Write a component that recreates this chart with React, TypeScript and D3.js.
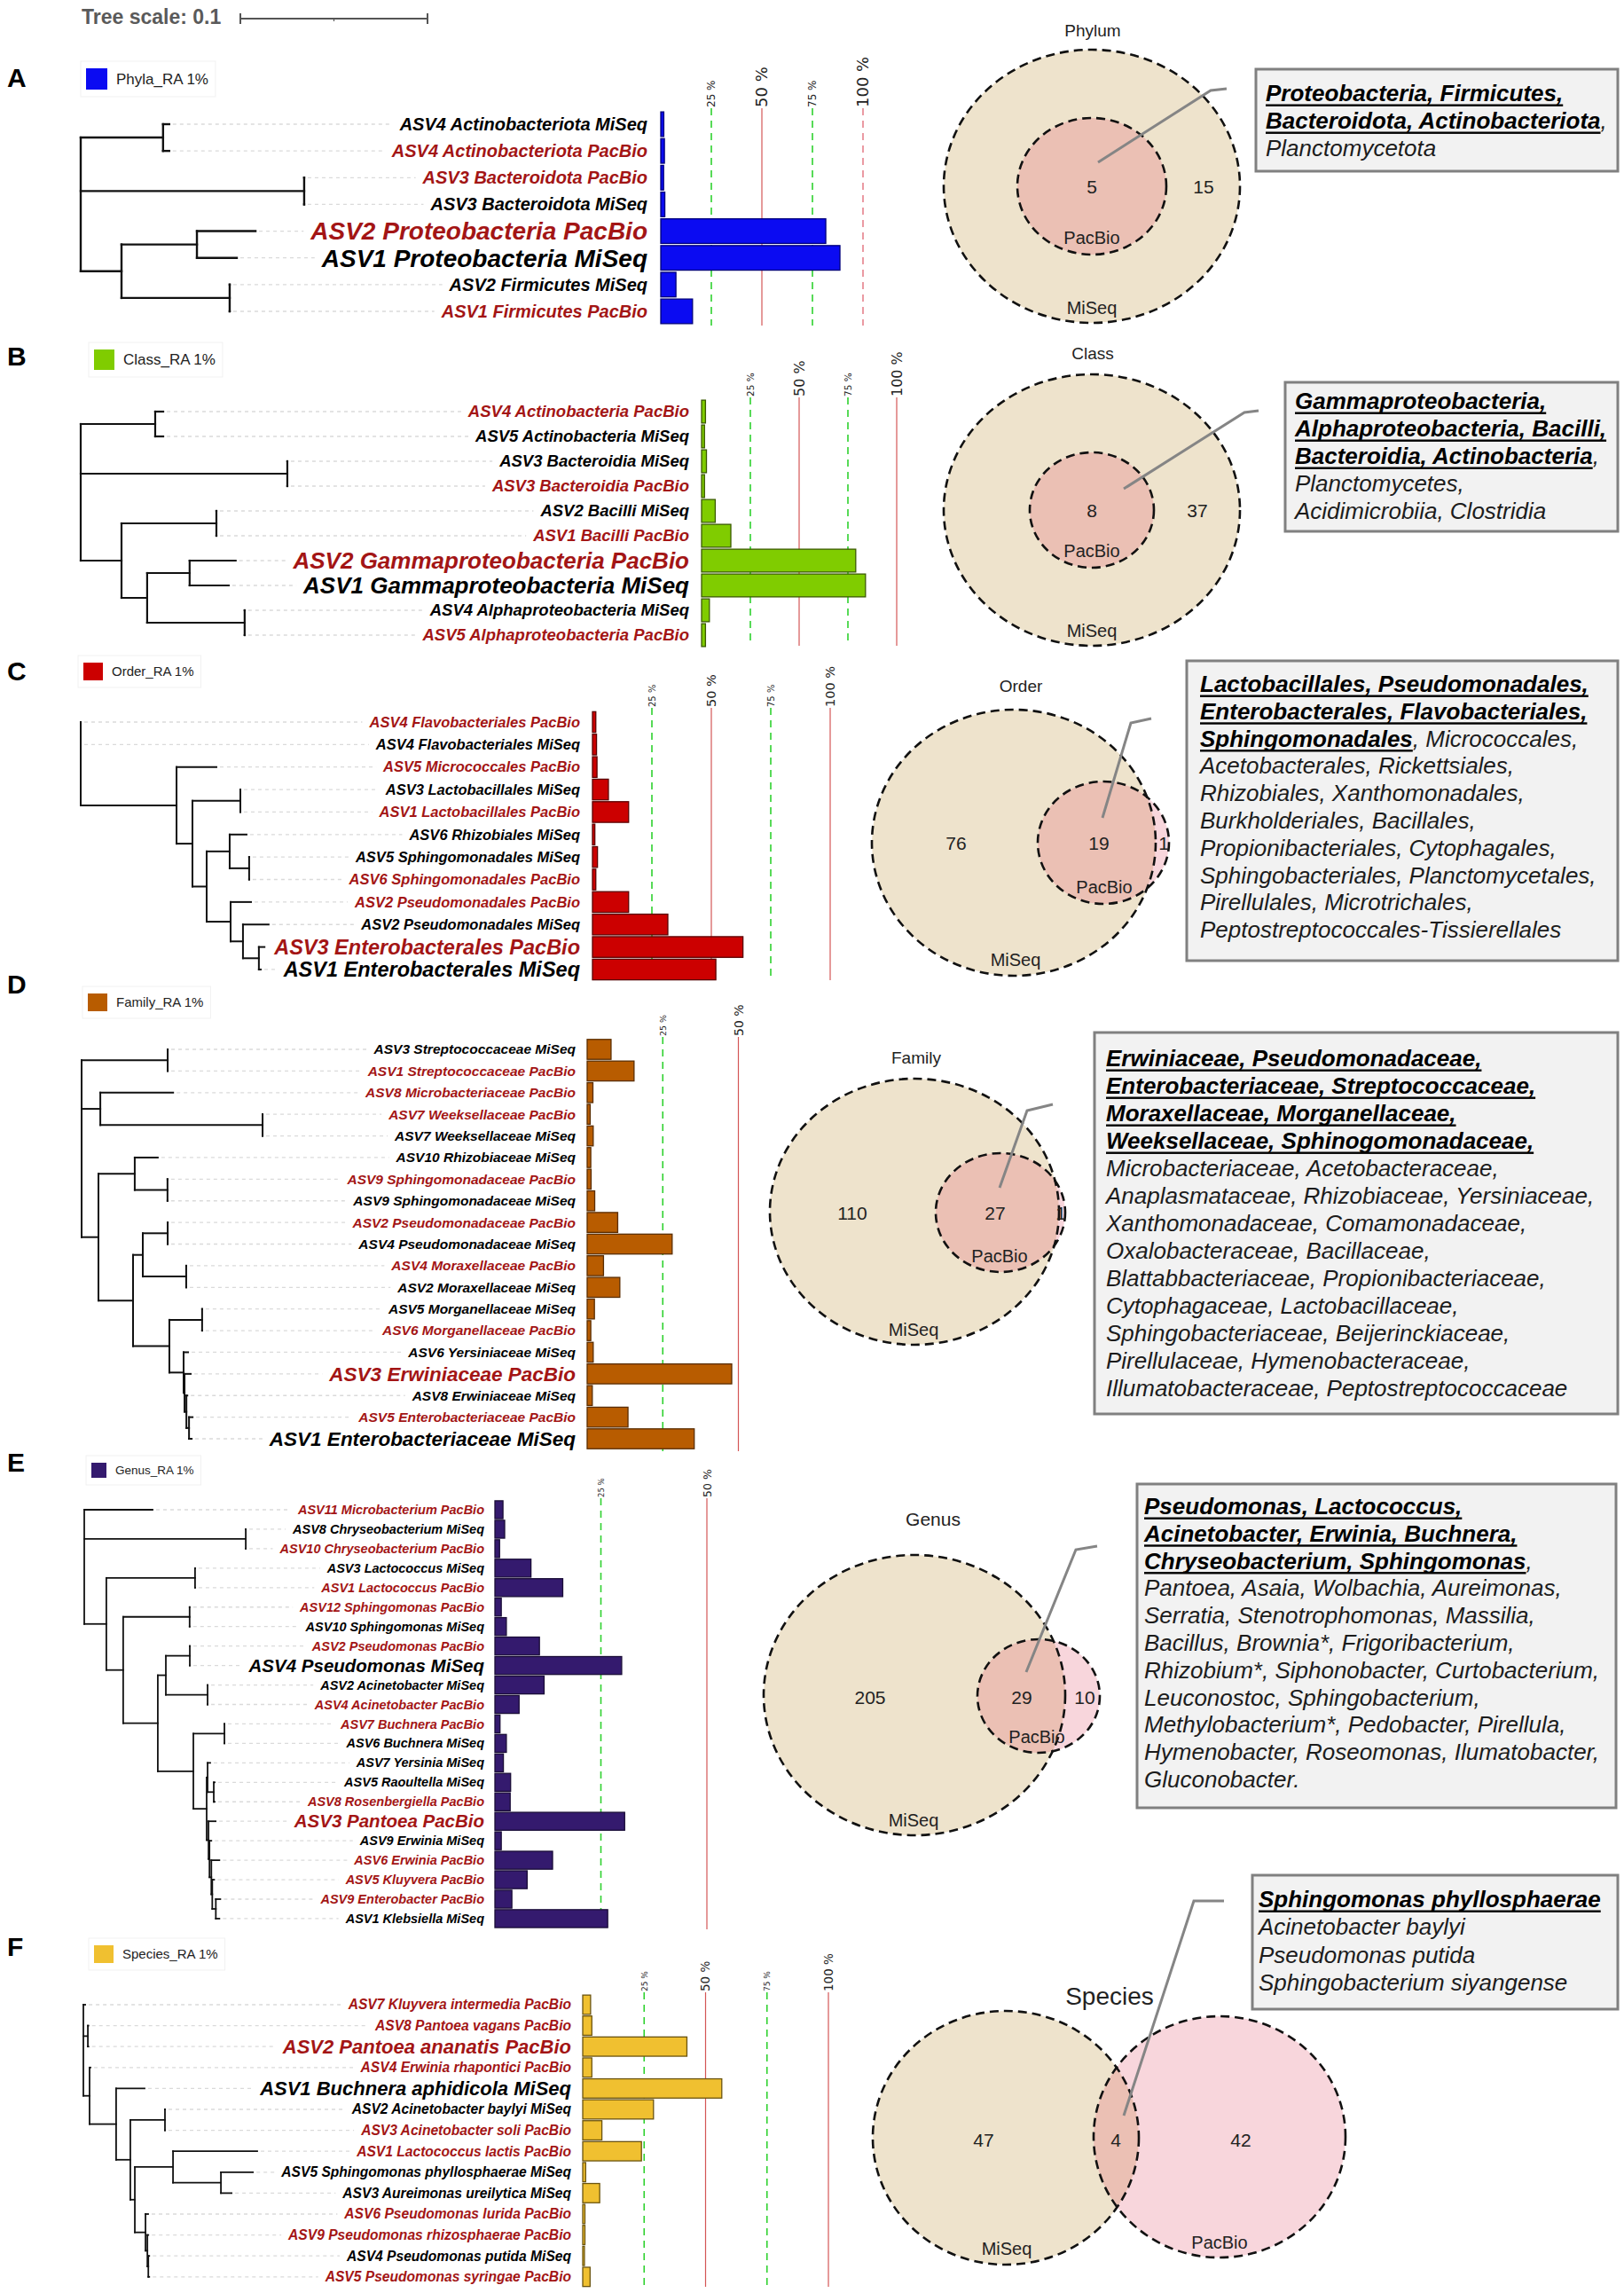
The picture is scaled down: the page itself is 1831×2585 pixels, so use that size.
import * as d3 from 'd3';
import { useEffect, useRef } from 'react';

const SANS = '"Liberation Sans", Arial, Helvetica, sans-serif';
const WIDE = '"DejaVu Sans", Verdana, sans-serif';

// ---------- A: phylum ----------
const phylaLabels = [
  'ASV4 Actinobacteriota MiSeq', 'ASV4 Actinobacteriota PacBio', 'ASV3 Bacteroidota PacBio',
  'ASV3 Bacteroidota MiSeq', 'ASV2 Proteobacteria PacBio', 'ASV1 Proteobacteria MiSeq',
  'ASV2 Firmicutes MiSeq', 'ASV1 Firmicutes PacBio',
];
const phylaValues = [1.5, 1.8, 1.4, 2.0, 81.6, 88.6, 7.5, 15.7];
const phylaBig = [4, 5];
const phylaTree = '((0:0.0033,1:0.0033):0.044,(2:0,3:0):0.1194,((4:0.0313,5:0.0213):0.0403,(6:0,7:0):0.0578):0.0218);';
const phylumVenn = [15, 5, 0];
const phylumShared = ['**Proteobacteria, Firmicutes,**', '**Bacteroidota, Actinobacteriota**,', 'Planctomycetota'];

// ---------- B: class ----------
const classLabels = [
  'ASV4 Actinobacteria PacBio', 'ASV5 Actinobacteria MiSeq', 'ASV3 Bacteroidia MiSeq', 'ASV3 Bacteroidia PacBio',
  'ASV2 Bacilli MiSeq', 'ASV1 Bacilli PacBio', 'ASV2 Gammaproteobacteria PacBio', 'ASV1 Gammaproteobacteria MiSeq',
  'ASV4 Alphaproteobacteria MiSeq', 'ASV5 Alphaproteobacteria PacBio',
];
const classValues = [2, 1.5, 2.5, 1.5, 7, 15, 79, 84, 4, 2];
const classBig = [6, 7];
const classTree = '((0:0.0043,1:0.0043):0.0398,(2:0,3:0):0.1104,((4:0,5:0):0.0507,((6:0.0246,7:0.0209):0.0227,(8:0,9:0):0.0521):0.0137):0.0218);';
const classVenn = [37, 8, 0];
const classShared = ['**Gammaproteobacteria,**', '**Alphaproteobacteria, Bacilli,**', '**Bacteroidia, Actinobacteria**,', 'Planctomycetes,', 'Acidimicrobiia, Clostridia'];

// ---------- C: order ----------
const orderLabels = [
  'ASV4 Flavobacteriales PacBio', 'ASV4 Flavobacteriales MiSeq', 'ASV5 Micrococcales PacBio', 'ASV3 Lactobacillales MiSeq',
  'ASV1 Lactobacillales PacBio', 'ASV6 Rhizobiales MiSeq', 'ASV5 Sphingomonadales MiSeq', 'ASV6 Sphingomonadales PacBio',
  'ASV2 Pseudomonadales PacBio', 'ASV2 Pseudomonadales MiSeq', 'ASV3 Enterobacterales PacBio', 'ASV1 Enterobacterales MiSeq',
];
const orderValues = [1.4, 1.7, 1.9, 6.7, 15.2, 1.0, 2.1, 1.4, 15.2, 31.7, 63.3, 51.9];
const orderBig = [10, 11];
const orderTree = '(0:0,1:0,(2:0.0213,((3:0,4:0):0.0256,((5:0.009,(6:0,7:0):0.0104):0.0123,(8:0.0109,(9:0.0137,(10:0.003,11:0.001):0.0085):0.0066):0.0128):0.0076):0.0085):0.0512);';
const orderVenn = [76, 19, 1];
const orderShared = [
  '**Lactobacillales, Pseudomonadales,**', '**Enterobacterales, Flavobacteriales,**', '**Sphingomonadales**, Micrococcales,',
  'Acetobacterales, Rickettsiales,', 'Rhizobiales, Xanthomonadales,', 'Burkholderiales, Bacillales,',
  'Propionibacteriales, Cytophagales,', 'Sphingobacteriales, Planctomycetales,', 'Pirellulales, Microtrichales,',
  'Peptostreptococcales-Tissierellales',
];

// ---------- D: family ----------
const familyLabels = [
  'ASV3 Streptococcaceae MiSeq', 'ASV1 Streptococcaceae PacBio', 'ASV8 Microbacteriaceae PacBio', 'ASV7 Weeksellaceae PacBio',
  'ASV7 Weeksellaceae MiSeq', 'ASV10 Rhizobiaceae MiSeq', 'ASV9 Sphingomonadaceae PacBio', 'ASV9 Sphingomonadaceae MiSeq',
  'ASV2 Pseudomonadaceae PacBio', 'ASV4 Pseudomonadaceae MiSeq', 'ASV4 Moraxellaceae PacBio', 'ASV2 Moraxellaceae MiSeq',
  'ASV5 Morganellaceae MiSeq', 'ASV6 Morganellaceae PacBio', 'ASV6 Yersiniaceae MiSeq', 'ASV3 Erwiniaceae PacBio',
  'ASV8 Erwiniaceae MiSeq', 'ASV5 Enterobacteriaceae PacBio', 'ASV1 Enterobacteriaceae MiSeq',
];
const familyValues = [7.9, 15.5, 1.9, 1.0, 2.0, 1.2, 1.3, 2.5, 10.1, 28.1, 5.4, 10.8, 2.4, 1.2, 2.0, 47.8, 1.7, 13.5, 35.4];
const familyBig = [15, 18];
const familyTree = '((0:0,1:0):0.046,(2:0.0389,(3:0,4:0):0.0867):0.01,((5:0.0123,(6:0,7:0):0.0175):0.0194,(((8:0,9:0):0.0133,(10:0,11:0):0.0232):0.0052,((12:0,13:0):0.0175,(14:0.0024,(15:0.0033,(16:0.0005,(17:0.0019,18:0.0014):0.0014):0.001):0.0005):0.0076):0.0194):0.0185):0.009);';
const familyVenn = [110, 27, 1];
const familyShared = [
  '**Erwiniaceae, Pseudomonadaceae,**', '**Enterobacteriaceae, Streptococcaceae,**', '**Moraxellaceae, Morganellaceae,**',
  '**Weeksellaceae, Sphinogomonadaceae,**', 'Microbacteriaceae, Acetobacteraceae,', 'Anaplasmataceae, Rhizobiaceae, Yersiniaceae,',
  'Xanthomonadaceae, Comamonadaceae,', 'Oxalobacteraceae, Bacillaceae,', 'Blattabbacteriaceae, Propionibacteriaceae,',
  'Cytophagaceae, Lactobacillaceae,', 'Sphingobacteriaceae, Beijerinckiaceae,', 'Pirellulaceae, Hymenobacteraceae,',
  'Illumatobacteraceae, Peptostreptococcaceae',
];

// ---------- E: genus ----------
const genusLabels = [
  'ASV11 Microbacterium PacBio', 'ASV8 Chryseobacterium MiSeq', 'ASV10 Chryseobacterium PacBio', 'ASV3 Lactococcus MiSeq',
  'ASV1 Lactococcus PacBio', 'ASV12 Sphingomonas PacBio', 'ASV10 Sphingomonas MiSeq', 'ASV2 Pseudomonas PacBio',
  'ASV4 Pseudomonas MiSeq', 'ASV2 Acinetobacter MiSeq', 'ASV4 Acinetobacter PacBio', 'ASV7 Buchnera PacBio',
  'ASV6 Buchnera MiSeq', 'ASV7 Yersinia MiSeq', 'ASV5 Raoultella MiSeq', 'ASV8 Rosenbergiella PacBio',
  'ASV3 Pantoea PacBio', 'ASV9 Erwinia MiSeq', 'ASV6 Erwinia PacBio', 'ASV5 Kluyvera PacBio',
  'ASV9 Enterobacter PacBio', 'ASV1 Klebsiella MiSeq',
];
const genusValues = [1.9, 2.3, 1.1, 8.5, 16.0, 1.5, 2.7, 10.5, 29.9, 11.6, 5.7, 1.2, 2.7, 2.0, 3.7, 3.6, 30.6, 1.5, 13.6, 7.6, 4.0, 26.6];
const genusBig = [8, 16];
const genusTree = '(0:0.0365,(1:0,2:0):0.0863,((3:0,4:0):0.0474,((5:0,6:0):0.0355,(((7:0,8:0):0.0128,(9:0,10:0):0.0223):0.0043,((11:0,12:0):0.0166,((13:0.0014,(14:0.0005,15:0.0005):0.0033):0.0005,(16:0.0038,(17:0.001,(18:0.0043,(19:0.001,(20:0.0024,21:0.0019):0.0019):0.0005):0.001):0.0005):0.001):0.0071):0.019):0.0185):0.009):0.0118);';
const genusVenn = [205, 29, 10];
const genusShared = [
  '**Pseudomonas, Lactococcus,**', '**Acinetobacter, Erwinia, Buchnera,**', '**Chryseobacterium, Sphingomonas**,',
  'Pantoea, Asaia, Wolbachia, Aureimonas,', 'Serratia, Stenotrophomonas, Massilia,', 'Bacillus, Brownia*, Frigoribacterium,',
  'Rhizobium*, Siphonobacter, Curtobacterium,', 'Leuconostoc, Sphingobacterium,', 'Methylobacterium*, Pedobacter, Pirellula,',
  'Hymenobacter, Roseomonas, Ilumatobacter,', 'Gluconobacter.',
];

// ---------- F: species ----------
const speciesLabels = [
  'ASV7 Kluyvera intermedia PacBio', 'ASV8 Pantoea vagans PacBio', 'ASV2 Pantoea ananatis PacBio', 'ASV4 Erwinia rhapontici PacBio',
  'ASV1 Buchnera aphidicola MiSeq', 'ASV2 Acinetobacter baylyi MiSeq', 'ASV3 Acinetobacter soli PacBio', 'ASV1 Lactococcus lactis PacBio',
  'ASV5 Sphingomonas phyllosphaerae MiSeq', 'ASV3 Aureimonas ureilytica MiSeq', 'ASV6 Pseudomonas lurida PacBio',
  'ASV9 Pseudomonas rhizosphaerae PacBio', 'ASV4 Pseudomonas putida MiSeq', 'ASV5 Pseudomonas syringae PacBio',
];
const speciesValues = [3.2, 3.7, 42.4, 3.7, 56.6, 28.8, 7.8, 23.9, 1.2, 6.9, 0.9, 0.9, 0.7, 3.0];
const speciesBig = [2, 4];
const speciesTree = '(0:0.001,(1:0.0003,2:0.0003):0.0024,(3:0.0005,(4:0.0152,((5:0,6:0):0.0185,((7:0.045,(8:0.0171,9:0.0057):0.0256):0.0204,(10:0.0014,(11:0.0005,(12:0.0005,13:0.0005):0.0005):0.001):0.0057):0.0024):0.0076):0.0142):0.0033);';
const speciesVenn = [47, 4, 42];
const speciesShared = ['**Sphingomonas phyllosphaerae**', 'Acinetobacter baylyi', 'Pseudomonas putida', 'Sphingobacterium siyangense'];

const panels = [
  {
    letter: 'A', letterY: 98, labels: phylaLabels, values: phylaValues, big: phylaBig, tree: phylaTree,
    color: '#0b0bf2', edge: '#00007a', legend: 'Phyla_RA 1%', legendSq: [97, 77, 24, 24], legendFont: 17,
    rootX: 91, rowY0: 140, rowStep: 30.14, labelX: 730, labelFont: 20, bigFont: 28, barX: 745, barW: 228,
    ticks: [25, 50, 75, 100], gridTop: 122, gridBottom: 367, tickFont: [12, 18], dash100: true, treeStroke: 2.4,
    counts: phylumVenn, shared: phylumShared,
    venn: { title: 'Phylum', titleXY: [1232, 34], titleFont: 19, mi: [1231, 210, 167, 154], pb: [1231, 210, 84, 77],
      pos: [[1357, 210], [1231, 210], [0, 0]], pbLabel: [1231, 268], miLabel: [1231, 347], callout: [[1238, 183], [1365, 102], [1383, 100]] },
    box: { rect: [1416, 78, 408, 115], textX: 1427, y0: 114, step: 31 },
  },
  {
    letter: 'B', letterY: 412, labels: classLabels, values: classValues, big: classBig, tree: classTree,
    color: '#80cc00', edge: '#3a5a00', legend: 'Class_RA 1%', legendSq: [106, 394, 23, 23], legendFont: 17,
    rootX: 91, rowY0: 464, rowStep: 28, labelX: 777, labelFont: 18.5, bigFont: 26, barX: 791, barW: 220,
    ticks: [25, 50, 75, 100], gridTop: 448, gridBottom: 728, tickFont: [10.5, 16], dash100: false, treeStroke: 2.2,
    counts: classVenn, shared: classShared,
    venn: { title: 'Class', titleXY: [1232, 398], titleFont: 19, mi: [1231, 575, 167, 153], pb: [1231, 575, 70, 65],
      pos: [[1350, 575], [1231, 575], [0, 0]], pbLabel: [1231, 621], miLabel: [1231, 711], callout: [[1267, 551], [1403, 465], [1419, 463]] },
    box: { rect: [1449, 431, 375, 168], textX: 1460, y0: 461, step: 31 },
  },
  {
    letter: 'C', letterY: 767, labels: orderLabels, values: orderValues, big: orderBig, tree: orderTree,
    color: '#cc0000', edge: '#5a0000', legend: 'Order_RA 1%', legendSq: [94, 747, 22, 20], legendFont: 15,
    rootX: 91, rowY0: 814, rowStep: 25.36, labelX: 654, labelFont: 16.5, bigFont: 23.5, barX: 668, barW: 268,
    ticks: [25, 50, 75, 100], gridTop: 798, gridBottom: 1105, tickFont: [10, 14.5], dash100: false, treeStroke: 2,
    counts: orderVenn, shared: orderShared,
    venn: { title: 'Order', titleXY: [1151, 773], titleFont: 19, mi: [1143, 950, 160, 150], pb: [1244, 950, 74, 69],
      pos: [[1078, 950], [1239, 950], [1312, 950]], pbLabel: [1245, 1000], miLabel: [1145, 1082], callout: [[1243, 922], [1275, 815], [1298, 810]] },
    box: { rect: [1338, 745, 486, 338], textX: 1353, y0: 780, step: 30.8 },
  },
  {
    letter: 'D', letterY: 1120, labels: familyLabels, values: familyValues, big: familyBig, tree: familyTree,
    color: '#b85c00', edge: '#5a2d00', legend: 'Family_RA 1%', legendSq: [99, 1120, 22, 20], legendFont: 15,
    rootX: 92, rowY0: 1183, rowStep: 24.39, labelX: 649, labelFont: 15.5, bigFont: 22.5, barX: 662, barW: 341,
    ticks: [25, 50], gridTop: 1169, gridBottom: 1636, tickFont: [9.5, 14], dash100: false, treeStroke: 2,
    counts: familyVenn, shared: familyShared,
    venn: { title: 'Family', titleXY: [1033, 1192], titleFont: 19, mi: [1031, 1366, 163, 150], pb: [1128, 1367, 73, 67],
      pos: [[961, 1367], [1122, 1367], [1196, 1367]], pbLabel: [1127, 1416], miLabel: [1030, 1499], callout: [[1127, 1339], [1158, 1252], [1187, 1245]] },
    box: { rect: [1234, 1164, 590, 430], textX: 1247, y0: 1202, step: 31 },
  },
  {
    letter: 'E', letterY: 1659, labels: genusLabels, values: genusValues, big: genusBig, tree: genusTree,
    color: '#341a6e', edge: '#1a0d37', legend: 'Genus_RA 1%', legendSq: [103, 1649, 17, 17], legendFont: 13.5,
    rootX: 95, rowY0: 1702, rowStep: 21.95, labelX: 546, labelFont: 14.5, bigFont: 20.5, barX: 558, barW: 478,
    ticks: [25, 50], gridTop: 1689, gridBottom: 2175, tickFont: [8.5, 12.5], dash100: false, treeStroke: 1.8,
    counts: genusVenn, shared: genusShared,
    venn: { title: 'Genus', titleXY: [1052, 1712], titleFont: 21, mi: [1031, 1911, 170, 158], pb: [1171, 1912, 69, 64],
      pos: [[981, 1913], [1152, 1913], [1223, 1913]], pbLabel: [1169, 1958], miLabel: [1030, 2052], callout: [[1157, 1885], [1213, 1747], [1237, 1743]] },
    box: { rect: [1282, 1673, 540, 365], textX: 1290, y0: 1707, step: 30.8 },
  },
  {
    letter: 'F', letterY: 2205, labels: speciesLabels, values: speciesValues, big: speciesBig, tree: speciesTree,
    color: '#f0c030', edge: '#6b5410', legend: 'Species_RA 1%', legendSq: [106, 2193, 22, 20], legendFont: 15,
    rootX: 94, rowY0: 2260, rowStep: 23.6, labelX: 644, labelFont: 15.6, bigFont: 22, barX: 657, barW: 277,
    ticks: [25, 50, 75, 100], gridTop: 2246, gridBottom: 2578, tickFont: [9, 13.5], dash100: false, treeStroke: 1.8,
    counts: speciesVenn, shared: speciesShared,
    venn: { title: 'Species', titleXY: [1251, 2250], titleFont: 28, mi: [1134, 2410, 150, 143], pb: [1375, 2409, 142, 136],
      pos: [[1109, 2412], [1258, 2412], [1399, 2412]], pbLabel: [1375, 2528], miLabel: [1135, 2535], callout: [[1267, 2385], [1346, 2143], [1380, 2143]] },
    box: { rect: [1412, 2114, 412, 151], textX: 1419, y0: 2150, step: 31.3 },
  },
];

type TreeNode = { id?: number; len: number; children?: TreeNode[] };

function parseNewick(s: string): TreeNode {
  let i = 0;
  const read = (): TreeNode => {
    const node: TreeNode = { len: 0 };
    if (s[i] === '(') {
      i++;
      node.children = [];
      while (i < s.length) {
        node.children.push(read());
        const c = s[i++];
        if (c !== ',') break;
      }
    }
    let name = '';
    while (i < s.length && !':,);'.includes(s[i])) name += s[i++];
    if (name !== '') node.id = +name;
    if (s[i] === ':') {
      i++;
      let num = '';
      while (i < s.length && !',);'.includes(s[i])) num += s[i++];
      node.len = +num;
    }
    return node;
  };
  return read();
}

function drawPanel(svg: any, p: any, idx: number) {
  const g = svg.append('g');

  g.append('text').attr('x', 8).attr('y', p.letterY).attr('font-family', SANS)
    .attr('font-weight', 'bold').attr('font-size', 30).text(p.letter);

  // legend
  const [lx, ly, lw, lh] = p.legendSq;
  const lg = g.append('g');
  const frame = lg.append('rect');
  lg.append('rect').attr('x', lx).attr('y', ly).attr('width', lw).attr('height', lh).attr('fill', p.color);
  const lt = lg.append('text').attr('x', lx + lw + 10).attr('y', ly + lh / 2).attr('dy', '0.35em')
    .attr('font-family', SANS).attr('font-size', p.legendFont).attr('fill', '#222').text(p.legend);
  const ltw = (lt.node() as SVGTextElement).getComputedTextLength();
  frame.attr('x', lx - 6).attr('y', ly - 8).attr('width', lw + ltw + 24).attr('height', lh + 16)
    .attr('fill', 'none').attr('stroke', '#f1f1f1').attr('stroke-width', 1);

  const n = p.labels.length;
  const y = d3.scaleLinear().domain([0, n - 1]).range([p.rowY0, p.rowY0 + p.rowStep * (n - 1)]);
  const x = d3.scaleLinear().domain([0, 100]).range([p.barX, p.barX + p.barW]);
  const tx = d3.scaleLinear().domain([0, 0.1]).range([p.rootX, p.rootX + 211]);

  // grid lines + rotated labels
  p.ticks.forEach((t: number) => {
    const major = t % 50 === 0;
    const xx = x(t);
    const line = g.append('line').attr('x1', xx).attr('x2', xx).attr('y1', p.gridTop).attr('y2', p.gridBottom);
    if (!major) {
      line.attr('stroke', '#2fd12f').attr('stroke-width', 1.6).attr('stroke-dasharray', '8,6');
    } else if (t === 100 && p.dash100) {
      line.attr('stroke', '#e2707c').attr('stroke-width', 1.4).attr('stroke-dasharray', '8,6');
    } else {
      line.attr('stroke', '#d45656').attr('stroke-width', 1.2);
    }
    g.append('text').attr('transform', `translate(${xx},${p.gridTop - 1}) rotate(-90)`).attr('dy', '0.36em')
      .attr('font-family', WIDE).attr('font-size', major ? p.tickFont[1] : p.tickFont[0]).attr('fill', '#222')
      .text(`${t} %`);
  });

  // tree
  const root: any = d3.hierarchy(parseNewick(p.tree), (d: TreeNode) => d.children);
  root.eachBefore((d: any) => { d.dist = d.parent ? d.parent.dist + d.data.len : 0; });
  root.eachAfter((d: any) => {
    d.py = d.children ? (d.children[0].py + d.children[d.children.length - 1].py) / 2 : y(d.data.id);
  });
  const tg = g.append('g').attr('stroke', '#111').attr('stroke-width', p.treeStroke).attr('fill', 'none')
    .attr('stroke-linecap', 'square');
  root.descendants().forEach((d: any) => {
    if (d.parent) {
      tg.append('line').attr('x1', tx(d.parent.dist)).attr('x2', tx(d.dist)).attr('y1', d.py).attr('y2', d.py);
    }
    if (d.children) {
      const c0 = d.children[0], c1 = d.children[d.children.length - 1];
      tg.append('line').attr('x1', tx(d.dist)).attr('x2', tx(d.dist)).attr('y1', c0.py).attr('y2', c1.py);
    }
  });

  // labels with dotted leaders
  const tipX = new Map<number, number>();
  root.leaves().forEach((d: any) => tipX.set(d.data.id, tx(d.dist)));
  p.labels.forEach((lab: string, i: number) => {
    const isBig = p.big.includes(i);
    const t = g.append('text').attr('x', p.labelX).attr('y', y(i)).attr('dy', '0.35em')
      .attr('text-anchor', 'end').attr('font-family', SANS).attr('font-weight', 'bold').attr('font-style', 'italic')
      .attr('font-size', isBig ? p.bigFont : p.labelFont)
      .attr('fill', lab.endsWith('PacBio') ? '#a31515' : '#000').text(lab);
    const w = (t.node() as SVGTextElement).getComputedTextLength();
    const x0 = (tipX.get(i) ?? p.rootX) + 4;
    const x1 = p.labelX - w - 8;
    if (x1 > x0) {
      g.insert('line', ':first-child').attr('x1', x0).attr('x2', x1).attr('y1', y(i)).attr('y2', y(i))
        .attr('stroke', '#dadada').attr('stroke-width', 1.3).attr('stroke-dasharray', '4,4');
    }
  });

  // bars
  const bh = p.rowStep * 0.92;
  g.append('g').selectAll('rect').data(p.values).enter().append('rect')
    .attr('x', x(0)).attr('y', (_d: number, i: number) => y(i) - bh / 2)
    .attr('width', (d: number) => x(d) - x(0)).attr('height', bh)
    .attr('fill', p.color).attr('stroke', p.edge).attr('stroke-width', 1.3);

  drawVenn(svg, p.venn, p.counts, idx);
  drawBox(svg, p.box, p.shared);
}

function drawVenn(svg: any, v: any, counts: number[], idx: number) {
  const g = svg.append('g');
  const [mcx, mcy, mrx, mry] = v.mi;
  const [pcx, pcy, prx, pry] = v.pb;
  const clipId = `venn-clip-${idx}`;
  g.append('clipPath').attr('id', clipId).append('ellipse')
    .attr('cx', mcx).attr('cy', mcy).attr('rx', mrx).attr('ry', mry);
  g.append('ellipse').attr('cx', mcx).attr('cy', mcy).attr('rx', mrx).attr('ry', mry).attr('fill', '#eee3cc');
  g.append('ellipse').attr('cx', pcx).attr('cy', pcy).attr('rx', prx).attr('ry', pry).attr('fill', '#f8d6dc');
  g.append('ellipse').attr('cx', pcx).attr('cy', pcy).attr('rx', prx).attr('ry', pry).attr('fill', '#ebc0b4')
    .attr('clip-path', `url(#${clipId})`);
  [v.mi, v.pb].forEach(([cx, cy, rx, ry]: number[]) => {
    g.append('ellipse').attr('cx', cx).attr('cy', cy).attr('rx', rx).attr('ry', ry).attr('fill', 'none')
      .attr('stroke', '#111').attr('stroke-width', 2.6).attr('stroke-dasharray', '10,6');
  });
  const label = (xy: number[], txt: string, size: number) =>
    g.append('text').attr('x', xy[0]).attr('y', xy[1]).attr('dy', '0.36em').attr('text-anchor', 'middle')
      .attr('font-family', SANS).attr('font-size', size).attr('fill', '#222').text(txt);
  label(v.titleXY, v.title, v.titleFont);
  counts.forEach((c, k) => { if (c > 0) label(v.pos[k], String(c), 21); });
  label(v.pbLabel, 'PacBio', 20);
  label(v.miLabel, 'MiSeq', 20);
  g.append('path').attr('d', d3.line()(v.callout)).attr('fill', 'none')
    .attr('stroke', '#858585').attr('stroke-width', 3);
}

function drawBox(svg: any, b: any, lines: string[]) {
  const g = svg.append('g');
  const [x, y, w, h] = b.rect;
  g.append('rect').attr('x', x).attr('y', y).attr('width', w).attr('height', h)
    .attr('fill', '#f2f2f2').attr('stroke', '#808080').attr('stroke-width', 3);
  lines.forEach((line, k) => {
    const base = b.y0 + k * b.step;
    const t = g.append('text').attr('x', b.textX).attr('y', base).attr('font-family', SANS)
      .attr('font-style', 'italic').attr('font-size', 26).attr('fill', '#1c1c1c');
    let cursor = b.textX;
    line.split('**').forEach((seg, j) => {
      if (!seg) return;
      const s = t.append('tspan').text(seg);
      if (j % 2 === 1) s.attr('font-weight', 'bold').attr('fill', '#000');
      const sw = (s.node() as SVGTextContentElement).getComputedTextLength();
      if (j % 2 === 1) {
        g.append('rect').attr('x', cursor).attr('y', base + 3.5).attr('width', sw).attr('height', 2.4).attr('fill', '#000');
      }
      cursor += sw;
    });
  });
}

const App = () => {
  const svgRef = useRef<SVGSVGElement>(null);

  useEffect(() => {
    const svg = d3.select(svgRef.current);
    svg.selectAll('*').remove();

    svg.append('rect').attr('width', 1831).attr('height', 2585).attr('fill', '#fff');

    // tree scale
    svg.append('text').attr('x', 92).attr('y', 27).attr('font-family', SANS).attr('font-weight', 'bold')
      .attr('font-size', 23).attr('fill', '#5a5a5a').text('Tree scale: 0.1');
    const sc = d3.scaleLinear().domain([0, 0.1]).range([271, 482]);
    const sb = svg.append('g').attr('stroke', '#555').attr('stroke-width', 2);
    sb.append('line').attr('x1', sc(0)).attr('x2', sc(0.1)).attr('y1', 21).attr('y2', 21);
    sb.append('line').attr('x1', sc(0)).attr('x2', sc(0)).attr('y1', 15).attr('y2', 27);
    sb.append('line').attr('x1', sc(0.1)).attr('x2', sc(0.1)).attr('y1', 15).attr('y2', 27);
    sb.append('line').attr('x1', sc(0.05)).attr('x2', sc(0.05)).attr('y1', 21).attr('y2', 24).attr('stroke-width', 1.2);

    panels.forEach((p, i) => drawPanel(svg, p, i));
  }, []);

  return (
    <svg ref={svgRef} width={1831} height={2585}
      style={{ position: 'absolute', left: 0, top: 0, background: '#fff' }} />
  );
};

export default App;
